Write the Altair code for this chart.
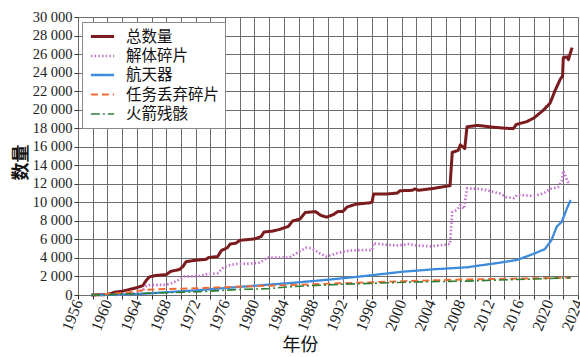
import altair as alt
import pandas as pd

# Catalogued objects in Earth orbit, by object type
total_year = [1957.8, 1960.0, 1961.0, 1962.0, 1963.0, 1964.0, 1964.8, 1965.3, 1965.7, 1966.5,
              1968.0, 1968.6, 1969.8, 1970.3, 1970.7, 1972.0, 1973.4, 1973.8, 1975.0, 1975.5,
              1976.3, 1976.7, 1977.5, 1978.0, 1980.0, 1980.9, 1981.3, 1982.5, 1983.5, 1984.6,
              1985.2, 1986.2, 1986.9, 1988.3, 1989.0, 1989.8, 1990.8, 1991.3, 1992.0, 1992.6,
              1993.8, 1995.7, 1996.0, 1996.2, 1998.0, 1999.4, 1999.8, 2001.5, 2001.8, 2002.3,
              2004.3, 2006.6, 2006.9, 2007.7, 2008.0, 2008.6, 2008.9, 2010.3, 2011.0, 2012.5,
              2014.0, 2015.2, 2015.6, 2017.0, 2018.0, 2019.3, 2020.2, 2020.9, 2021.6, 2021.9,
              2022.0, 2022.5, 2022.7, 2023.0, 2023.2]
total_val = [0, 50, 300, 400, 600, 800, 1000, 1600, 1950, 2100,
             2200, 2550, 2750, 3100, 3600, 3750, 3850, 4050, 4150, 4800,
             5100, 5500, 5600, 5900, 6050, 6300, 6800, 6900, 7100, 7400,
             8000, 8200, 8900, 9000, 8600, 8400, 8700, 9000, 9000, 9500,
             9800, 9950, 10050, 10900, 10900, 11000, 11250, 11300, 11450, 11300,
             11500, 11800, 15400, 15600, 16200, 15800, 18150, 18300, 18250, 18100,
             18000, 17950, 18400, 18700, 19100, 19950, 20700, 22100, 23300, 23600,
             25600, 25700, 25400, 26200, 26700]

frag_year = [1961.0, 1962.0, 1964.0, 1964.8, 1965.3, 1966.0, 1968.0, 1968.8, 1969.6, 1970.5,
             1972.6, 1973.5, 1975.0, 1975.8, 1976.5, 1977.5, 1979.5, 1980.8, 1981.7, 1984.8,
             1985.8, 1987.0, 1987.8, 1988.9, 1989.8, 1991.2, 1992.5, 1994.0, 1996.0, 1996.2,
             1997.5, 1999.5, 2001.0, 2002.0, 2004.0, 2006.6, 2006.9, 2007.5, 2008.0, 2008.5,
             2008.9, 2010.7, 2011.6, 2013.4, 2014.3, 2015.3, 2015.7, 2017.9, 2019.3, 2020.2,
             2021.3, 2021.8, 2022.0, 2022.3, 2022.6, 2023.0]
frag_val = [0, 100, 200, 500, 1000, 1100, 1100, 1300, 1600, 2000,
            2050, 2250, 2350, 3000, 3200, 3350, 3400, 3500, 4050, 4050,
            4550, 5100, 5050, 4500, 4150, 4500, 4750, 4850, 4850, 5600,
            5450, 5350, 5500, 5350, 5250, 5500, 8950, 9150, 9700, 9300,
            11500, 11450, 11300, 10950, 10550, 10450, 10800, 10700, 10950, 11450,
            11650, 12300, 13400, 12800, 12200, 12000]

sc_year = [1957.8, 1960.0, 1964.0, 1968.0, 1972.0, 1976.0, 1980.0, 1985.0, 1990.0, 1995.0,
           2000.0, 2004.3, 2008.9, 2013.4, 2015.7, 2017.9, 2019.5, 2020.4, 2021.1, 2021.8,
           2022.5, 2023.0]
sc_val = [0, 30, 100, 300, 500, 750, 1000, 1300, 1650, 2050,
          2500, 2770, 2990, 3490, 3780, 4420, 4960, 5930, 7370, 7910,
          9350, 10250]

mrd_year = [1958.0, 1960.0, 1963.0, 1965.0, 1968.0, 1972.0, 1977.0, 1985.0, 1991.6, 2000.5,
            2005.0, 2009.0, 2018.0, 2023.0]
mrd_val = [0, 100, 300, 550, 650, 720, 880, 1080, 1260, 1500,
           1600, 1680, 1800, 1870]

rb_year = [1957.8, 1960.0, 1964.0, 1968.0, 1972.6, 1978.0, 1981.7, 1985.0, 1991.6, 1996.0,
           2000.5, 2004.0, 2009.0, 2013.4, 2018.0, 2023.0]
rb_val = [0, 30, 150, 250, 360, 600, 680, 900, 1150, 1260,
          1380, 1440, 1500, 1620, 1720, 1870]

series_names = ["总数量", "解体碎片", "航天器", "任务丢弃碎片", "火箭残骸"]
series_colors = ["#7a1b1e", "#c56fd2", "#3d8bdb", "#f36a35", "#2f7f36"]
series_dash = [[1, 0], [1.5, 2.2], [1, 0], [7, 4], [9, 3, 2, 3]]
series_width = [3, 1.6, 1.6, 1.8, 1.8]

frames = []
for name, xs, ys in zip(series_names,
                        [total_year, frag_year, sc_year, mrd_year, rb_year],
                        [total_val, frag_val, sc_val, mrd_val, rb_val]):
    frames.append(pd.DataFrame({"year": xs, "count": ys, "series": name}))
data = pd.concat(frames, ignore_index=True)

serif = "Times New Roman, Liberation Serif, DejaVu Serif, serif"
cjk = "Noto Sans CJK SC, sans-serif"
grid_color = "#6e6e6e"

x_ticks = list(range(1956, 2025, 2))
y_ticks = list(range(0, 30001, 2000))

chart = alt.Chart(data).mark_line(strokeJoin="round").encode(
    x=alt.X("year:Q",
            scale=alt.Scale(domain=[1956, 2024], nice=False, zero=False),
            axis=alt.Axis(values=x_ticks, format="d", grid=True,
                          gridColor=grid_color, gridWidth=1, gridOpacity=1,
                          domain=False,
                          labelExpr="datum.value % 4 == 0 ? datum.label : ''",
                          labelAngle=-68, labelAlign="right", labelBaseline="middle",
                          labelFont=serif, labelFontSize=16, labelColor="#222",
                          labelPadding=1, labelBound=False, labelFlush=False,
                          labelOverlap=False,
                          tickSize=4, tickColor="#333",
                          title="年份", titleFont=cjk, titleFontSize=18,
                          titleFontWeight="normal", titleColor="#111",
                          titleX=222, titleY=50, titleBaseline="middle",
                          titleAnchor="middle")),
    y=alt.Y("count:Q",
            scale=alt.Scale(domain=[0, 30000], nice=False),
            axis=alt.Axis(values=y_ticks, grid=True,
                          gridColor=grid_color, gridWidth=1, gridOpacity=1,
                          domain=False,
                          labelExpr="replace(format(datum.value, ','), ',', ' ')",
                          labelFont=serif, labelFontSize=14.5, labelColor="#222",
                          labelPadding=2, labelFlush=False, labelOverlap=False,
                          tickSize=4, tickColor="#333",
                          title="数量", titleFont=cjk, titleFontSize=18,
                          titleFontWeight="bold", titleColor="#111",
                          titleX=-57, titleY=145, titleBaseline="middle",
                          titleAngle=-90)),
    color=alt.Color("series:N",
                    scale=alt.Scale(domain=series_names, range=series_colors),
                    legend=alt.Legend(title=None, orient="none", legendX=4, legendY=5,
                                      labelFont=cjk, labelFontSize=15.5, labelColor="#111",
                                      symbolType="M-1.5,0H1.5", symbolSize=240,
                                      symbolStrokeWidth=2.2, rowPadding=1.5,
                                      symbolOffset=6,
                                      labelOffset=14, labelLimit=200,
                                      padding=5, fillColor="white",
                                      strokeColor="#888", cornerRadius=0)),
    strokeDash=alt.StrokeDash("series:N",
                              scale=alt.Scale(domain=series_names, range=series_dash),
                              legend=None),
    strokeWidth=alt.StrokeWidth("series:N",
                                scale=alt.Scale(domain=series_names, range=series_width),
                                legend=None),
    order=alt.Order("year:Q"),
).properties(
    width=500,
    height=278,
    autosize=alt.AutoSizeParams(type="none"),
    padding={"left": 78, "top": 17, "right": 2, "bottom": 62},
).configure_view(
    stroke="#8a8a8a", strokeWidth=1.2,
).configure(background="white")

chart.save("out.html", embed_options={"renderer": "svg", "actions": False})
